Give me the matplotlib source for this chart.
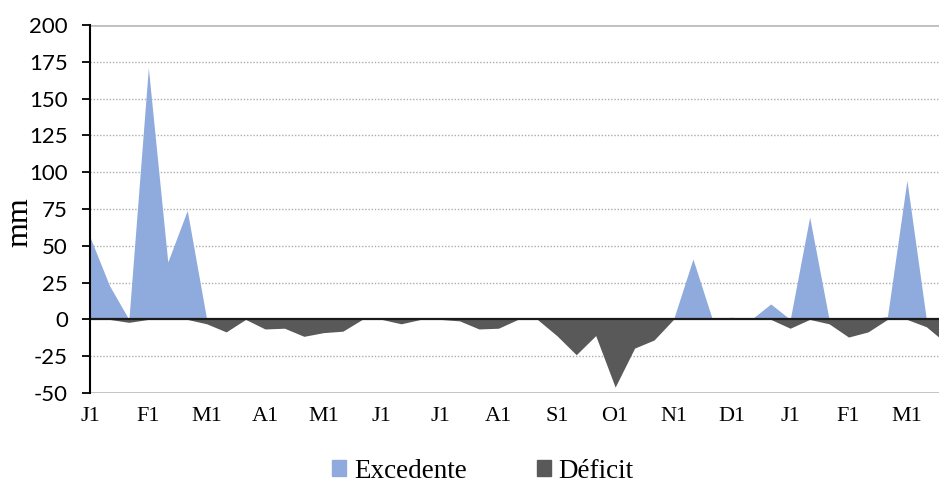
import numpy as np
import matplotlib.pyplot as plt
from matplotlib.patches import Patch

plt.rcParams['axes.unicode_minus'] = False

# Decadas (1, 2, 3) de cada mes, de enero a marzo del año siguiente
meses = ['J', 'F', 'M', 'A', 'M', 'J', 'J', 'A', 'S', 'O', 'N', 'D', 'J', 'F', 'M']
decadas = [f'{m}{d}' for m in meses for d in (1, 2, 3)]

# Balance hídrico por década (mm)
excedente = [56, 23, 0, 171, 39, 74, 0, 0, 0, 0, 0, 0, 0, 0, 0,
             0, 0, 0, 0, 0, 0, 0, 0, 0, 0, 0, 0, 0, 0, 0,
             0, 41, 0, 1.5, 0, 10.5, 0, 69.5, 0, 0, 0, 2, 94.5, 0, 0]
deficit = [0, 0, -2, 0, 0, 0, -3, -8.5, 0, -6.5, -6, -11.5, -9, -8, 0,
           0, -3, 0, 0, -1, -6.5, -6, 0, 0, -11, -24, -11, -46, -19.5, -14,
           0, 0, 0, 0, 0, 0, -6, 0, -3, -12, -8.5, 0, 0, -5, -16]

x = np.arange(len(excedente))

fig = plt.figure(figsize=(9.39, 4.86), dpi=100)
ax = fig.add_axes([90 / 939, 93 / 486, 849 / 939, 368 / 486])

c_exc = '#8FAADC'
c_def = '#595959'
ax.fill_between(x, 0, excedente, color=c_exc, lw=0, zorder=2)
ax.fill_between(x, 0, deficit, color=c_def, lw=0, zorder=2)

ax.set_xlim(0, 43.65)
ax.set_ylim(-50, 200)
yt = np.arange(-50, 201, 25)
ax.set_yticks(yt)
ax.set_xticks(x[::3])
ax.set_xticklabels(decadas[::3])

# lineas de cuadricula
for y in yt:
    if y in (-50, 200):
        ax.axhline(y, color='#BFBFBF', lw=2, zorder=1)
    elif y != 0:
        ax.axhline(y, color='#ADADAD', lw=1, ls=(0, (1, 1.3)), zorder=1)
ax.axhline(0, color='#1A1A1A', lw=1.6, zorder=3)

for s in ('top', 'right', 'bottom'):
    ax.spines[s].set_visible(False)
ax.spines['left'].set_color('black')
ax.spines['left'].set_linewidth(1.5)
ax.spines['left'].set_zorder(4)

ax.tick_params(axis='y', direction='out', length=6, width=1.3, pad=10,
               labelsize=16)
for lab in ax.get_yticklabels():
    lab.set_family('Lato')
ax.tick_params(axis='x', length=0, pad=10, labelsize=16)
for lab in ax.get_xticklabels():
    lab.set_family('Liberation Serif')

ax.set_ylabel('mm', family='Liberation Serif', fontsize=23, va='center')
ax.yaxis.set_label_coords((20 - 90) / 849, (393 - 222.5) / 368)

handles = [Patch(color=c_exc, label='Excedente'),
           Patch(color=c_def, label='Déficit')]
fig.legend(handles=handles, loc='center', ncol=2, frameon=False,
           bbox_to_anchor=(483 / 939, 1 - 471 / 486),
           prop={'family': 'Liberation Serif', 'size': 19.5},
           handlelength=0.5, handleheight=0.5, handletextpad=0.3,
           columnspacing=2.6, borderpad=0.2)

fig.savefig('out.png', dpi=100)
